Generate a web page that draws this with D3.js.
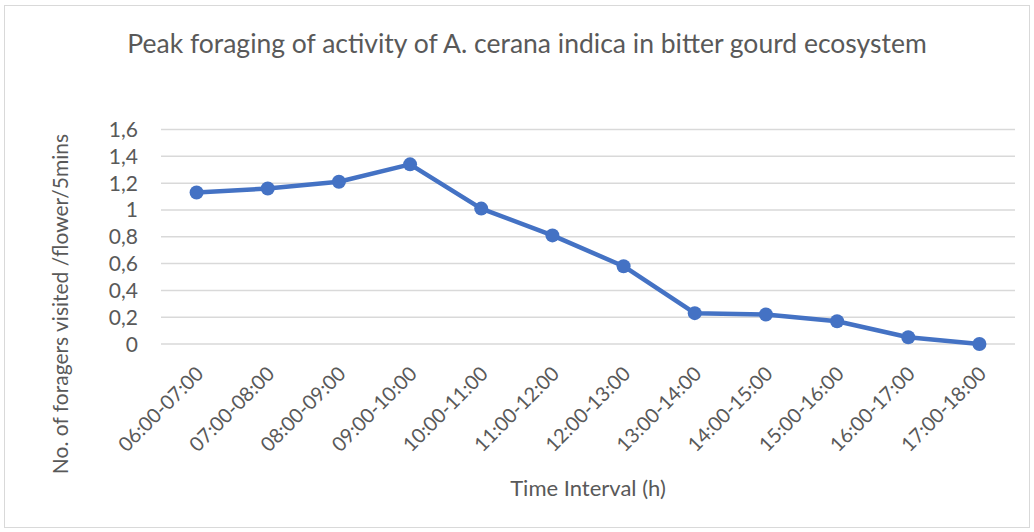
<!DOCTYPE html>
<html><head><meta charset="utf-8">
<script src="https://cdn.jsdelivr.net/npm/d3@7"></script>
<style>body{margin:0;background:#fff}svg text{font-family:Lato,"Open Sans",sans-serif;fill:#595959}</style>
</head><body><svg id="c" width="1034" height="532"></svg>
<script>
const categories = ["06:00-07:00","07:00-08:00","08:00-09:00","09:00-10:00","10:00-11:00","11:00-12:00","12:00-13:00","13:00-14:00","14:00-15:00","15:00-16:00","16:00-17:00","17:00-18:00"];
const values = [1.13,1.16,1.21,1.34,1.01,0.81,0.58,0.23,0.22,0.17,0.05,0];
const yTicks = [0,0.2,0.4,0.6,0.8,1,1.2,1.4,1.6];
const title = "Peak foraging of activity of A. cerana indica in bitter gourd ecosystem";
const xTitle = "Time Interval (h)";
const yTitle = "No. of foragers visited /flower/5mins";

const svg = d3.select("#c");
svg.append("rect").attr("x",4.5).attr("y",5.5).attr("width",1025).attr("height",522).attr("fill","#fff").attr("stroke","#d9d9d9");
const L=161,R=1015,T=129.5,B=344;
const x = d3.scaleBand().domain(categories).range([L,R]);
const y = d3.scaleLinear().domain([0,1.6]).range([B,T]);
const fmt = d => String(+d.toFixed(1)).replace(".",",");

svg.append("g").selectAll("line").data(yTicks).join("line")
  .attr("x1",L).attr("x2",R).attr("y1",d=>y(d)).attr("y2",d=>y(d))
  .attr("stroke","#d9d9d9").attr("stroke-width",1.5);
svg.append("g").selectAll("text").data(yTicks).join("text")
  .attr("x",138).attr("y",d=>y(d)).attr("dy","0.36em").attr("text-anchor","end")
  .attr("font-size",21).text(fmt);

svg.append("g").selectAll("text").data(categories).join("text")
  .attr("transform",d=>`translate(${x(d)+x.bandwidth()/2+8},375) rotate(-45)`)
  .attr("text-anchor","end").attr("font-size",20).text(d=>d);

const line = d3.line().x((d,i)=>x(categories[i])+x.bandwidth()/2).y(d=>y(d));
svg.append("path").datum(values).attr("d",line).attr("fill","none")
  .attr("stroke","#4472C4").attr("stroke-width",4.5).attr("stroke-linejoin","round");
svg.append("g").selectAll("circle").data(values).join("circle")
  .attr("cx",(d,i)=>x(categories[i])+x.bandwidth()/2).attr("cy",d=>y(d)).attr("r",7)
  .attr("fill","#4472C4");

svg.append("text").attr("x",527).attr("y",53).attr("text-anchor","middle").attr("font-size",26.5).text(title);
svg.append("text").attr("x",588).attr("y",496).attr("text-anchor","middle").attr("font-size",22).text(xTitle);
svg.append("text").attr("transform","translate(68,304) rotate(-90)").attr("text-anchor","middle").attr("font-size",21).text(yTitle);
</script></body></html>
